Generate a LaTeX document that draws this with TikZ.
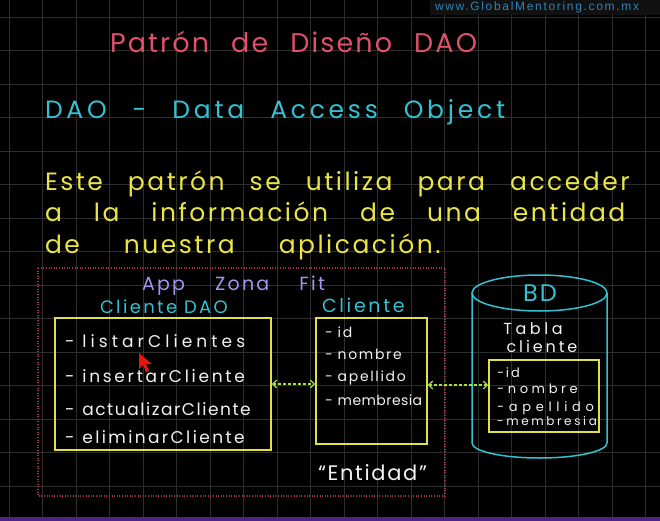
\documentclass[tikz,border=0pt]{standalone}
\usepackage{fontspec}
\usetikzlibrary{arrows.meta}
\newfontfamily\hand{Poppins}
\newfontfamily\webfont{Liberation Sans}
\newcommand\hf[3]{\hand\fontsize{#1}{#1}\selectfont\addfontfeatures{LetterSpace=#2}\spaceskip=#3pt\relax}
\definecolor{bgc}{HTML}{000000}
\definecolor{gridc}{HTML}{2E2E2E}
\definecolor{pinkc}{HTML}{E0506A}
\definecolor{cyanc}{HTML}{34C2D2}
\definecolor{yelc}{HTML}{EAE444}
\definecolor{boxc}{HTML}{E2E046}
\definecolor{whc}{HTML}{F2F2F2}
\definecolor{lavc}{HTML}{A296F0}
\definecolor{redd}{HTML}{A8304A}
\definecolor{greenc}{HTML}{A4E234}
\definecolor{webc}{HTML}{2F82B8}
\definecolor{bannerc}{HTML}{111111}
\definecolor{barc}{HTML}{52228A}
\definecolor{cursc}{HTML}{E4160E}
\tikzset{
  txt/.style={anchor=base west, inner sep=0pt, outer sep=0pt},
  ybox/.style={draw=boxc, line width=1.6pt, inner sep=0pt},
  garrow/.style={draw=greenc, line width=1.3pt, dash pattern=on 3pt off 2pt, {Straight Barb[length=4pt,width=8pt]}-{Straight Barb[length=4pt,width=8pt]}},
  reddot/.style={draw=redd, line width=1.1pt, dash pattern=on 1pt off 1.6pt},
  cyl/.style={draw=cyanc, line width=1.5pt},
  gridline/.style={draw=gridc, line width=0.7pt},
}
\begin{document}
\begin{tikzpicture}[x=1pt,y=-1pt]
\useasboundingbox (0,0) rectangle (660,521);
\fill[bgc] (0,0) rectangle (660,521);
% grid
\foreach \k in {0,...,19} \draw[gridline] ({9+33.5*\k},0) -- ++(0,521);
\foreach \k in {0,...,15} \draw[gridline] (0,{17+33.5*\k}) -- ++(660,0);
% banner
\fill[bannerc] (430,0) rectangle (660,15);
\node[txt, text=webc, font={\webfont\fontsize{12}{12}\selectfont\addfontfeatures{LetterSpace=14}}] (web) at (435,11) {www.GlobalMentoring.com.mx};
% bottom bar
\fill[barc] (0,517) rectangle (660,521);
% titles
\node[txt, text=pinkc, font={\hf{27}{8}{22}}] (title) at (110,53) {Patrón de Diseño DAO};
\node[txt, text=cyanc, font={\hf{25}{15}{26}}] (dao) at (45,119) {DAO - Data Access Object};
\node[txt, text=yelc, font={\hf{25}{10}{25}}] (p1) at (45,191) {Este patrón se utiliza para acceder};
\node[txt, text=yelc, font={\hf{25}{10}{32}}] (p2) at (45,222) {a la información de una entidad};
\node[txt, text=yelc, font={\hf{25}{10}{44}}] (p3) at (45,253) {de nuestra aplicación.};
% app region
\draw[reddot] (38,268) rectangle (445,496);
\node[txt, text=lavc, font={\hf{19}{12}{30}}] (app) at (142,290) {App Zona Fit};
\node[txt, text=cyanc, font={\hf{18}{13}{7}}] (cdaolbl) at (100,313) {Cliente DAO};
\node[txt, text=cyanc, font={\hf{19}{14}{6}}] (clilbl) at (322,312) {Cliente};
% boxes
\node[ybox, minimum width=216pt, minimum height=132pt] (cdao) at (163,384) {};
\node[ybox, minimum width=111pt, minimum height=126pt] (cli) at (371.5,381) {};
\node[ybox, minimum width=110pt, minimum height=72pt] (tab) at (544,396) {};
% DAO items
\node[txt, text=whc, font={\hf{17}{24}{8}}] (m1) at (65,347) {- listarClientes};
\node[txt, text=whc, font={\hf{17}{16}{8}}] (m2) at (65,382) {- insertarCliente};
\node[txt, text=whc, font={\hf{17}{9}{8}}] (m3) at (65,415) {- actualizarCliente};
\node[txt, text=whc, font={\hf{17}{14}{8}}] (m4) at (65,443) {- eliminarCliente};
% Cliente items
\node[txt, text=whc, font={\hf{14}{12}{5}}] (c1) at (325,337) {- id};
\node[txt, text=whc, font={\hf{14}{12}{5}}] (c2) at (325,359) {- nombre};
\node[txt, text=whc, font={\hf{14}{12}{5}}] (c3) at (325,381) {- apellido};
\node[txt, text=whc, font={\hf{14}{3}{5}}] (c4) at (325,405) {- membresia};
\node[txt, text=whc, font={\hf{21}{8}{4}}] (ent) at (318,480) {“Entidad”};
% cylinder
\draw[cyl] (472,293) -- (472,443) arc[start angle=180, end angle=360, x radius=67.5pt, y radius=15pt] -- (607,293);
\draw[cyl] (539.5,293) ellipse[x radius=67.5pt, y radius=18pt];
\node[text=cyanc, font={\hf{24}{8}{4}}, inner sep=0pt] (bd) at (540,293) {BD};
\node[text=whc, font={\hf{16}{22}{4}}, inner sep=0pt, anchor=base] (tabla) at (533,334) {Tabla};
\node[text=whc, font={\hf{16}{18}{4}}, inner sep=0pt, anchor=base] (tcli) at (542,352) {cliente};
\node[txt, text=whc, font={\hf{13}{14}{1}}] (t1) at (497,377) {-id};
\node[txt, text=whc, font={\hf{13}{28}{1}}] (t2) at (497,393) {-nombre};
\node[txt, text=whc, font={\hf{13}{36}{1}}] (t3) at (497,411) {-apellido};
\node[txt, text=whc, font={\hf{12}{22}{1}}] (t4) at (497,425) {-membresia};
% arrows
\draw[garrow] (cdao.east) -- (cdao.east -| cli.west);
\draw[garrow] ([yshift=-4pt]cli.east) -- ([yshift=-4pt]cli.east -| tab.west);
% cursor
\fill[cursc] (139,353) -- (139,369) -- (143,365) -- (146,372) -- (149,371) -- (146,364) -- (152,364) -- cycle;
\end{tikzpicture}
\end{document}
